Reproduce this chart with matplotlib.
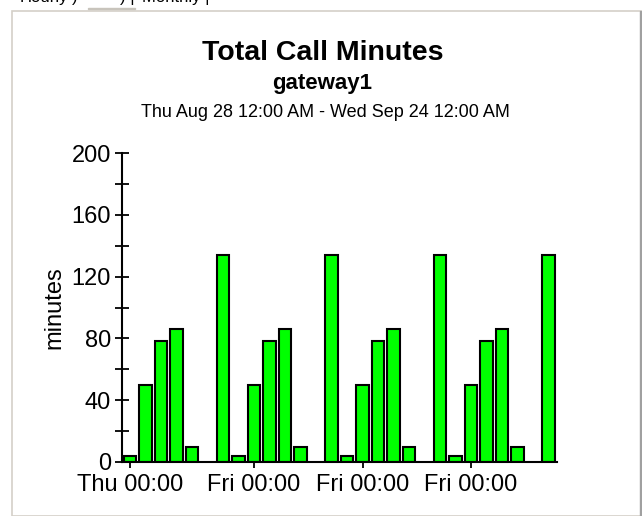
import matplotlib
matplotlib.use("Agg")
import matplotlib.pyplot as plt
from matplotlib.patches import Rectangle
import numpy as np

plt.rcParams['font.family'] = ['Liberation Sans', 'DejaVu Sans']

# daily totals, Thu Aug 28 .. Wed Sep 24 (day index 0..27), None = no data
days = list(range(28))
minutes = [4, 50, 78, 86, 10, None, 134,
           4, 50, 78, 86, 10, None, 134,
           4, 50, 78, 86, 10, None, 134,
           4, 50, 78, 86, 10, None, 134]
tick_days = [0, 8, 15, 22]
tick_labels = ["Thu 00:00", "Fri 00:00", "Fri 00:00", "Fri 00:00"]
yticks = [0, 40, 80, 120, 160, 200]

W, H = 642, 516
fig = plt.figure(figsize=(W / 100, H / 100), dpi=100)

def px(x, y):
    # pixel coords (top-left origin) -> figure fraction
    return x / W, 1 - y / H

# panel frame and the clipped tab strip above it
fig.patches.append(Rectangle(px(12, 516), 629 / W, 505 / H,
                             transform=fig.transFigure, fill=False,
                             edgecolor='#d4d0c8', linewidth=1.2))
fig.patches.append(Rectangle(px(639.5, 516), 1.5 / W, 505 / H,
                             transform=fig.transFigure, color='#a0a0a0'))
fig.text(*px(20, 2), "Hourly", fontsize=12, va='baseline')
fig.text(*px(72, 2), ")", fontsize=12, va='baseline')
fig.text(*px(120, 2), ") |", fontsize=12, va='baseline')
fig.text(*px(142, 2), "Monthly |", fontsize=12, va='baseline')
fig.patches.append(Rectangle(px(88, 9), 47 / W, 1.2 / H,
                             transform=fig.transFigure, color='#c8c4bc'))

ax = fig.add_axes([*px(122, 462), 435 / W, 309 / H])

xs = [d for d, v in zip(days, minutes) if v is not None]
vals = [v for v in minutes if v is not None]
ax.bar(xs, vals, width=0.8, color='#00ff00', edgecolor='black', linewidth=1.5, zorder=2)

ax.set_xlim(-0.52, 27.55)
ax.set_ylim(0, 200)
ax.set_yticks(yticks)
ax.set_yticks(np.arange(20, 200, 40), minor=True)
ax.set_xticks(tick_days)
ax.set_xticklabels(tick_labels)

for s in ['top', 'right']:
    ax.spines[s].set_visible(False)
ax.spines['left'].set_linewidth(1.5)
ax.spines['bottom'].set_linewidth(1.5)

ax.tick_params(axis='y', which='both', direction='inout', length=10, width=1.3,
               labelsize=17, pad=3, colors='black')
ax.tick_params(axis='x', which='major', direction='inout', length=9, width=1.3,
               labelsize=17, pad=4)
ax.set_ylabel("minutes", fontsize=17, labelpad=4)

fig.text(*px(323, 60), "Total Call Minutes", fontsize=20.5,
         fontweight='bold', ha='center', va='baseline')
fig.text(*px(322, 89), "gateway1", fontsize=16,
         fontweight='bold', ha='center', va='baseline')
fig.text(*px(325, 117), "Thu Aug 28 12:00 AM - Wed Sep 24 12:00 AM",
         fontsize=13, ha='center', va='baseline')

fig.savefig("out.png", dpi=100)
